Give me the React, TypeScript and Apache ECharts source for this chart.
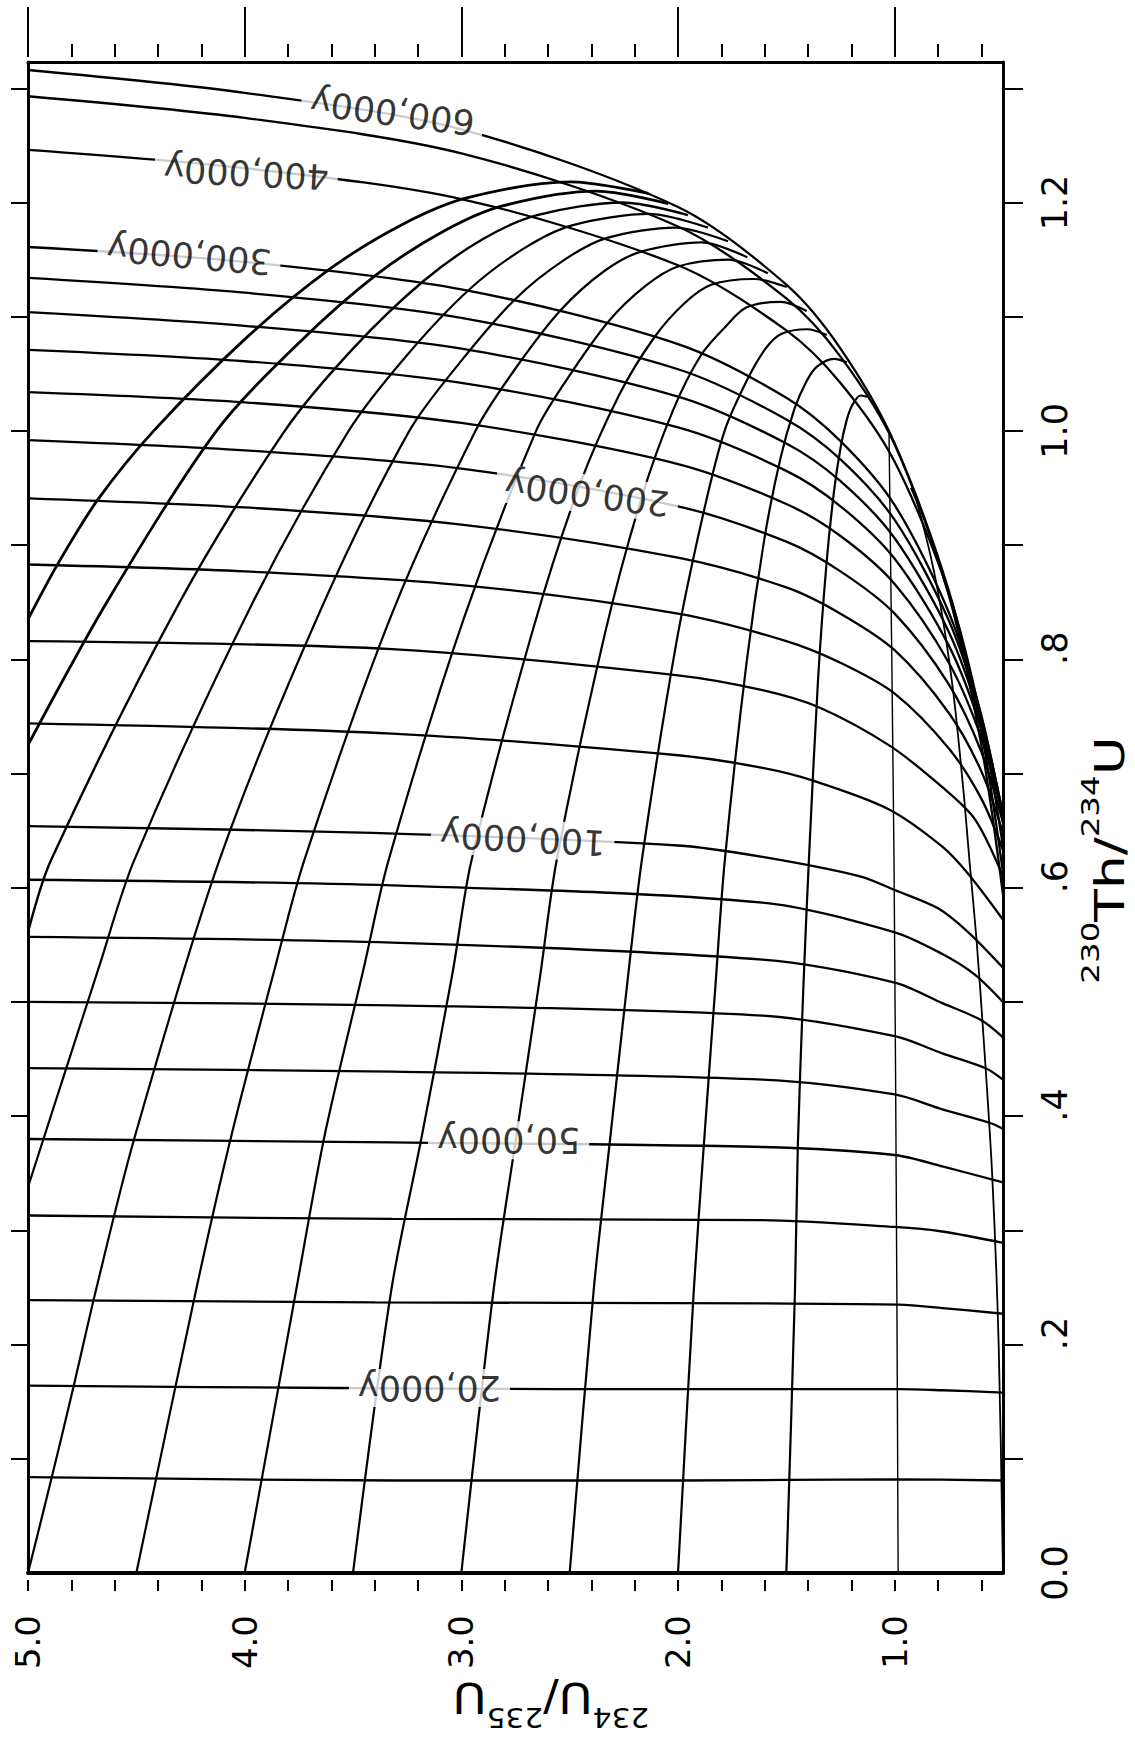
import React, { useEffect, useRef } from "react";
import * as echarts from "echarts";

// ---------- axis ticks / labels ----------
const xRatioTicks = [0.6, 0.8, 1.0, 1.2, 1.4, 1.6, 1.8, 2.0, 2.2, 2.4, 2.6, 2.8, 3.0, 3.2, 3.4, 3.6, 3.8, 4.0, 4.2, 4.4, 4.6, 4.8, 5.0];
const xRatioLabels = [1.0, 2.0, 3.0, 4.0, 5.0];
const yRatioTicks = [0.1, 0.2, 0.3, 0.4, 0.5, 0.6, 0.7, 0.8, 0.9, 1.0, 1.1, 1.2, 1.3];
const yRatioLabels = [0, 0.2, 0.4, 0.6, 0.8, 1.0, 1.2];

// ---------- isochrons: [234U/235U, 230Th/234U] ----------
const iso10k = [[5.0, 0.084], [3.3, 0.081], [2.0, 0.081], [1.0, 0.082], [0.5, 0.081]];
const iso20k = [[5.0, 0.164], [3.57, 0.162], [2.57, 0.161], [1.61, 0.161], [0.98, 0.161], [0.78, 0.16], [0.5, 0.158]];
const iso30k = [[5.0, 0.239], [3.4, 0.237], [1.6, 0.236], [0.98, 0.235], [0.78, 0.232], [0.5, 0.227]];
const iso40k = [[5.0, 0.313], [3.32, 0.31], [1.61, 0.309], [1.0, 0.303], [0.78, 0.299], [0.5, 0.289]];
const iso50k = [[5.0, 0.38], [3.32, 0.377], [1.61, 0.373], [1.0, 0.366], [0.78, 0.356], [0.5, 0.342]];
const iso60k = [[5.0, 0.442], [3.32, 0.439], [1.61, 0.432], [1.0, 0.419], [0.78, 0.406], [0.56, 0.394], [0.5, 0.389]];
const iso70k = [[5.0, 0.5], [3.32, 0.497], [1.61, 0.488], [1.0, 0.47], [0.78, 0.455], [0.58, 0.442], [0.5, 0.432]];
const iso80k = [[5.0, 0.557], [3.32, 0.552], [1.61, 0.537], [1.0, 0.517], [0.78, 0.499], [0.6, 0.484], [0.5, 0.469]];
const iso90k = [[5.0, 0.607], [3.32, 0.602], [1.61, 0.587], [1.0, 0.561], [0.78, 0.542], [0.63, 0.524], [0.5, 0.5]];
const iso100k = [[5.0, 0.654], [3.41, 0.648], [2.0, 0.637], [1.61, 0.627], [1.16, 0.61], [1.0, 0.598], [0.8, 0.582], [0.66, 0.561], [0.5, 0.53]];
const iso120k = [[5.0, 0.744], [3.32, 0.735], [2.0, 0.716], [1.61, 0.705], [1.38, 0.694], [1.03, 0.669], [0.78, 0.636], [0.66, 0.612], [0.5, 0.572]];
const iso140k = [[5.0, 0.816], [3.32, 0.809], [2.0, 0.786], [1.61, 0.773], [1.35, 0.758], [1.02, 0.724], [0.78, 0.688], [0.63, 0.66], [0.5, 0.61]];
const iso160k = [[5.0, 0.883], [4.0, 0.877], [3.0, 0.865], [2.0, 0.84], [1.5, 0.816], [1.25, 0.797], [1.0, 0.77], [0.75, 0.722], [0.6, 0.678], [0.5, 0.633]];
const iso180k = [[5.0, 0.941], [4.0, 0.933], [3.0, 0.918], [2.0, 0.889], [1.5, 0.863], [1.25, 0.84], [1.0, 0.808], [0.75, 0.753], [0.6, 0.702], [0.5, 0.648]];
const iso200k = [[5.0, 0.992], [4.0, 0.983], [3.0, 0.967], [2.0, 0.934], [1.5, 0.903], [1.25, 0.877], [1.0, 0.84], [0.75, 0.778], [0.6, 0.719], [0.5, 0.657]];
const iso220k = [[5.0, 1.034], [4.0, 1.025], [3.0, 1.007], [2.0, 0.971], [1.5, 0.936], [1.25, 0.908], [1.0, 0.866], [0.75, 0.797], [0.6, 0.731], [0.5, 0.662]];
const iso240k = [[5.0, 1.071], [4.0, 1.061], [3.0, 1.042], [2.0, 1.003], [1.5, 0.965], [1.25, 0.934], [1.0, 0.888], [0.75, 0.812], [0.6, 0.739], [0.5, 0.664]];
const iso260k = [[5.0, 1.104], [4.0, 1.092], [3.0, 1.072], [2.0, 1.03], [1.5, 0.989], [1.25, 0.956], [1.0, 0.906], [0.75, 0.824], [0.6, 0.745], [0.5, 0.665]];
const iso280k = [[5.0, 1.134], [4.0, 1.121], [3.0, 1.099], [2.0, 1.054], [1.5, 1.01], [1.25, 0.975], [1.0, 0.922], [0.75, 0.834], [0.6, 0.749], [0.5, 0.663]];
const iso300k = [[5.0, 1.161], [4.0, 1.148], [3.0, 1.124], [2.0, 1.076], [1.5, 1.029], [1.25, 0.991], [1.0, 0.935], [0.75, 0.841], [0.6, 0.751], [0.5, 0.659]];
const iso400k = [[5.0, 1.246], [4.0, 1.23], [3.0, 1.203], [2.0, 1.145], [1.5, 1.088], [1.25, 1.042], [1.0, 0.973], [0.75, 0.858], [0.6, 0.747], [0.5, 0.636]];
const iso500k = [[5.0, 1.293], [4.0, 1.274], [3.0, 1.243], [2.0, 1.179], [1.5, 1.116], [1.25, 1.065], [1.0, 0.988], [0.75, 0.86], [0.6, 0.737], [0.5, 0.613]];
const iso600k = [[5.0, 1.316], [4.0, 1.296], [3.0, 1.264], [2.0, 1.196], [1.5, 1.128], [1.25, 1.072], [1.0, 0.989], [0.75, 0.856], [0.6, 0.725], [0.5, 0.594]];

// ---------- curves of constant initial 234U/235U ----------
const a0_70 = [[5.0, 0.835], [4.861, 0.884], [4.677, 0.94], [4.42, 1.0], [3.995, 1.081], [3.605, 1.142], [3.27, 1.181], [2.975, 1.204], [2.497, 1.218], [2.137, 1.208]];
const a0_65 = [[5.0, 0.725], [4.63, 0.852], [4.13, 1.0], [3.75, 1.077], [3.39, 1.137], [3.08, 1.175], [2.81, 1.197], [2.375, 1.21], [2.045, 1.199]];
const a0_60 = [[5.0, 0.561], [4.894, 0.624], [4.3, 0.85], [3.815, 1.0], [3.5, 1.072], [3.176, 1.131], [2.9, 1.168], [2.65, 1.189], [2.253, 1.2], [1.954, 1.189]];
const a0_55 = [[5.0, 0.338], [4.67, 0.532], [4.51, 0.624], [3.97, 0.847], [3.52, 1.0], [3.252, 1.066], [2.962, 1.124], [2.709, 1.16], [2.489, 1.18], [2.131, 1.19], [1.862, 1.178]];
const a0_50 = [[5.0, 0.0], [4.89, 0.084], [4.79, 0.163], [4.686, 0.248], [4.51, 0.38], [4.117, 0.624], [3.65, 0.843], [3.24, 1.0], [3.006, 1.06], [2.748, 1.116], [2.523, 1.15], [2.327, 1.169], [2.01, 1.178], [1.769, 1.166]];
const a0_45 = [[4.5, 0.0], [4.224, 0.248], [4.06, 0.384], [3.86, 0.53], [3.725, 0.624], [3.32, 0.84], [2.935, 1.0], [2.76, 1.052], [2.54, 1.106], [2.34, 1.14], [2.17, 1.157], [1.89, 1.165], [1.68, 1.152]];
const a0_40 = [[4.0, 0.0], [3.762, 0.248], [3.63, 0.384], [3.45, 0.53], [3.336, 0.624], [2.99, 0.835], [2.655, 1.0], [2.52, 1.043], [2.32, 1.096], [2.15, 1.127], [2.0, 1.144], [1.765, 1.15], [1.585, 1.138]];
const a0_35 = [[3.5, 0.0], [3.323, 0.248], [3.185, 0.38], [3.04, 0.526], [2.953, 0.624], [2.665, 0.829], [2.455, 0.952], [2.27, 1.032], [2.109, 1.082], [1.969, 1.112], [1.847, 1.128], [1.649, 1.133], [1.498, 1.126]];
const a0_30 = [[3.0, 0.0], [2.851, 0.248], [2.749, 0.379], [2.636, 0.523], [2.56, 0.624], [2.338, 0.822], [2.169, 0.941], [2.023, 1.018], [1.895, 1.066], [1.782, 1.091], [1.685, 1.108], [1.526, 1.113], [1.406, 1.105]];
const a0_25 = [[2.5, 0.0], [2.389, 0.248], [2.315, 0.377], [2.232, 0.52], [2.167, 0.624], [2.01, 0.812], [1.884, 0.927], [1.785, 1.0], [1.68, 1.045], [1.596, 1.072], [1.522, 1.085], [1.403, 1.089], [1.313, 1.084]];
const a0_20 = [[2.0, 0.0], [1.927, 0.248], [1.881, 0.374], [1.827, 0.515], [1.784, 0.624], [1.683, 0.798], [1.6, 0.907], [1.527, 0.976], [1.463, 1.019], [1.408, 1.043], [1.36, 1.056], [1.28, 1.063], [1.221, 1.06]];
const a0_15 = [[1.5, 0.0], [1.46, 0.248], [1.447, 0.374], [1.422, 0.51], [1.396, 0.624], [1.354, 0.781], [1.315, 0.883], [1.28, 0.947], [1.249, 0.986], [1.222, 1.009], [1.197, 1.022], [1.158, 1.031], [1.128, 1.03]];
const a0_10 = [[0.984, 0.0], [0.99, 0.248], [1.003, 0.624], [1.026, 0.997]];
const a0_05 = [[0.5, 0.0], [0.52, 0.2], [0.55, 0.349], [0.588, 0.464], [0.622, 0.554], [0.655, 0.624], [0.68, 0.68], [0.725, 0.764], [0.765, 0.82], [0.8, 0.859], [0.83, 0.887], [0.855, 0.907], [0.895, 0.936], [0.925, 0.95]];

// ---------- age labels ----------
const ageLabelText = ["600,000y", "400,000y", "300,000y", "200,000y", "100,000y", "50,000y", "20,000y"];
const ageLabelRatio = [3.318, 3.993, 4.256, 2.42, 2.717, 2.782, 3.147];
const ageLabelThU = [1.279, 1.226, 1.154, 0.945, 0.643, 0.379, 0.162];

const isochrons = [iso10k, iso20k, iso30k, iso40k, iso50k, iso60k, iso70k, iso80k, iso90k, iso100k, iso120k, iso140k, iso160k, iso180k, iso200k, iso220k, iso240k, iso260k, iso280k, iso300k, iso400k, iso500k, iso600k];
const initialCurves = [a0_70, a0_65, a0_60, a0_55, a0_50, a0_45, a0_40, a0_35, a0_30, a0_25, a0_20, a0_15, a0_10, a0_05];

const FONT = '"DejaVu Sans", "Liberation Sans", sans-serif';
const X_MIN = 0.5;
const X_MAX = 5.0;
const Y_MAX = 1.323;
const labelRotation = [172.6, 177, 175, 173, 177, 180, 180];
const initialWidths = [2.8, 2.8, 2.4, 2.2, 2.2, 2.2, 2.2, 2.2, 2.2, 2.2, 2.2, 2.2, 1.4, 1.8];

function buildOption() {
  const black = "#000";
  const lineSeries: any[] = [];
  isochrons.forEach((d, i) => {
    lineSeries.push({
      type: "line",
      name: "iso" + i,
      data: d,
      symbol: "none",
      smooth: 0.3,
      silent: true,
      z: 2,
      lineStyle: { color: black, width: 2.3 },
    });
  });
  initialCurves.forEach((d, i) => {
    lineSeries.push({
      type: "line",
      name: "a0_" + i,
      data: d,
      symbol: "none",
      smooth: 0.3,
      silent: true,
      z: 2,
      lineStyle: { color: black, width: initialWidths[i] },
    });
  });
  lineSeries.push({
    type: "scatter",
    name: "ageLabels",
    symbolSize: 1,
    itemStyle: { color: "rgba(0,0,0,0)" },
    silent: true,
    z: 10,
    data: ageLabelText.map((t, i) => ({
      name: t,
      value: [ageLabelRatio[i], ageLabelThU[i]],
      label: { rotate: labelRotation[i] },
    })),
    label: {
      show: true,
      position: "inside",
      formatter: "{b}",
      fontSize: 35,
      lineHeight: 36,
      fontFamily: FONT,
      color: black,
      backgroundColor: "#fff",
      padding: [1, 9, 1, 9],
      align: "center",
      verticalAlign: "middle",
    },
  });

  const baseX = { type: "value", inverse: true, min: X_MIN, max: X_MAX, splitLine: { show: false } };
  const baseY = { type: "value", min: 0, max: Y_MAX, splitLine: { show: false } };

  return {
    animation: false,
    backgroundColor: "#fff",
    grid: { left: 28, right: 132, top: 62, bottom: 171, containLabel: false },
    xAxis: [
      {
        ...baseX,
        position: "bottom",
        axisLine: { show: true, onZero: false, lineStyle: { color: black, width: 4 } },
        axisTick: { show: false },
        axisLabel: {
          show: true,
          customValues: xRatioLabels,
          formatter: (v: number) => v.toFixed(1),
          rotate: 90,
          margin: 42,
          fontSize: 34,
          fontFamily: FONT,
          color: black,
        },
      },
      {
        ...baseX,
        position: "bottom",
        offset: 7,
        axisLine: { show: false, onZero: false },
        axisTick: { show: true, customValues: xRatioTicks, length: 11, lineStyle: { color: black, width: 2 } },
        axisLabel: { show: false },
      },
      {
        ...baseX,
        position: "top",
        axisLine: { show: true, onZero: false, lineStyle: { color: black, width: 3 } },
        axisTick: { show: false },
        axisLabel: { show: false },
      },
      {
        ...baseX,
        position: "top",
        offset: 5,
        axisLine: { show: false, onZero: false },
        axisTick: { show: true, customValues: xRatioTicks, length: 13, lineStyle: { color: black, width: 2 } },
        axisLabel: { show: false },
      },
      {
        ...baseX,
        position: "top",
        offset: 5,
        axisLine: { show: false, onZero: false },
        axisTick: { show: true, customValues: xRatioLabels, length: 50, lineStyle: { color: black, width: 2 } },
        axisLabel: { show: false },
      },
    ],
    yAxis: [
      {
        ...baseY,
        position: "left",
        axisLine: { show: true, onZero: false, lineStyle: { color: black, width: 3 } },
        axisTick: { show: true, customValues: yRatioTicks, length: 17, lineStyle: { color: black, width: 2 } },
        axisLabel: { show: false },
      },
      {
        ...baseY,
        position: "right",
        axisLine: { show: true, onZero: false, lineStyle: { color: black, width: 3 } },
        axisTick: { show: true, customValues: yRatioTicks, length: 20, lineStyle: { color: black, width: 2 } },
        axisLabel: {
          show: true,
          customValues: yRatioLabels,
          rotate: 90,
          margin: 34,
          fontSize: 35,
          fontFamily: FONT,
          color: black,
          formatter: (v: number) => {
            if (v === 0) return "0.0";
            if (v >= 1) return v.toFixed(1);
            return "{h|0}" + v.toFixed(1).slice(1);
          },
          rich: { h: { color: "rgba(0,0,0,0)", fontSize: 35, fontFamily: FONT } },
        },
      },
    ],
    series: lineSeries,
    graphic: [
      {
        type: "text",
        x: 1104,
        y: 860,
        rotation: Math.PI / 2,
        scaleX: 1.3,
        silent: true,
        style: {
          text: "{s|230}{b|Th/}{s|234}{b|U}",
          align: "center",
          verticalAlign: "middle",
          textAlign: "center",
          textVerticalAlign: "middle",
          fill: black,
          rich: {
            s: { fontSize: 25, fontFamily: FONT, verticalAlign: "top", lineHeight: 52, fill: black },
            b: { fontSize: 41, fontFamily: FONT, verticalAlign: "bottom", lineHeight: 52, fill: black },
          },
        },
      },
      {
        type: "text",
        x: 551,
        y: 1704,
        rotation: Math.PI,
        scaleX: 1.1,
        silent: true,
        style: {
          text: "{s|234}{b|U/}{s|235}{b|U}",
          align: "center",
          verticalAlign: "middle",
          textAlign: "center",
          textVerticalAlign: "middle",
          fill: black,
          rich: {
            s: { fontSize: 27, fontFamily: FONT, verticalAlign: "top", lineHeight: 54, fill: black },
            b: { fontSize: 42, fontFamily: FONT, verticalAlign: "bottom", lineHeight: 54, fill: black },
          },
        },
      },
    ],
  };
}

export default function App() {
  const ref = useRef<HTMLDivElement>(null);
  useEffect(() => {
    if (!ref.current) return;
    const chart = echarts.init(ref.current, null, { renderer: "svg" });
    chart.setOption(buildOption() as any);
    return () => chart.dispose();
  }, []);
  return (
    <div
      ref={ref}
      style={{ position: "absolute", left: 0, top: 0, width: 1135, height: 1744, background: "#fff" }}
    />
  );
}
